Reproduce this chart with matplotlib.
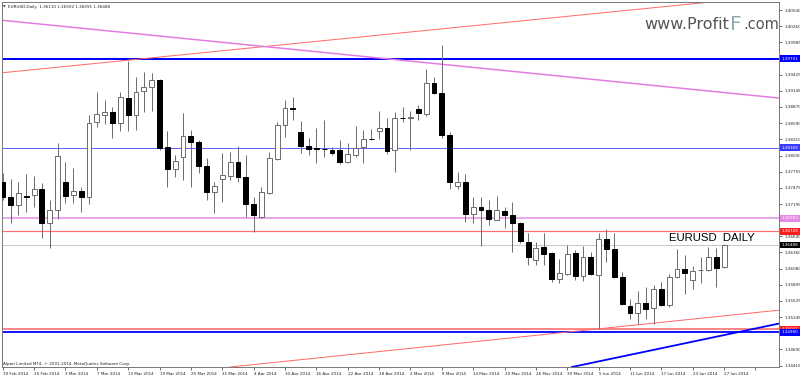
import matplotlib
matplotlib.use("Agg")
import matplotlib.pyplot as plt

# ---------------- data (EURUSD daily, 19 Feb 2014 .. 27 Jun 2014) ----------------
opens = [1.37574, 1.37316, 1.37178, 1.37333, 1.37350, 1.37454, 1.36867, 1.37092, 1.37574, 1.37350,
         1.37419, 1.37316, 1.38609, 1.38729, 1.38781, 1.38591, 1.39022, 1.38729, 1.39143, 1.39212,
         1.39333, 1.38178, 1.37798, 1.38005, 1.38367, 1.38264, 1.37850, 1.37402, 1.37626, 1.37678,
         1.37919, 1.37661, 1.37195, 1.36971, 1.37385, 1.37971, 1.38557, 1.38850, 1.38436, 1.38195,
         1.38160, 1.38152, 1.38126, 1.38126, 1.37919, 1.38040, 1.38178, 1.38316, 1.38454, 1.38505,
         1.38126, 1.38678, 1.38686, 1.38833, 1.38747, 1.39281, 1.39109, 1.38385, 1.37505, 1.37574,
         1.37023, 1.37143, 1.37092, 1.36919, 1.37074, 1.37005, 1.36867, 1.36540, 1.36230, 1.36454,
         1.36350, 1.35902, 1.35988, 1.36350, 1.35954, 1.36281, 1.35971, 1.36592, 1.36419, 1.35937,
         1.35437, 1.35316, 1.35488, 1.35402, 1.35730, 1.35454, 1.35937, 1.36074, 1.35885, 1.36050,
         1.36057, 1.36281, 1.36110]
highs = [1.37729, 1.37626, 1.37574, 1.37712, 1.37678, 1.37557, 1.37264, 1.38247, 1.37919, 1.37816,
         1.37488, 1.38729, 1.39126, 1.38988, 1.38867, 1.39126, 1.39660, 1.39385, 1.39471, 1.39453,
         1.39350, 1.38454, 1.38040, 1.38764, 1.38471, 1.38298, 1.37988, 1.37574, 1.38074, 1.38092,
         1.38195, 1.38040, 1.37316, 1.37488, 1.38092, 1.38609, 1.38988, 1.39040, 1.38626, 1.38333,
         1.38505, 1.38643, 1.38178, 1.38298, 1.38247, 1.38540, 1.38471, 1.38488, 1.38798, 1.38678,
         1.38781, 1.38867, 1.38798, 1.38902, 1.39522, 1.39385, 1.39936, 1.38436, 1.37747, 1.37712,
         1.37316, 1.37316, 1.37264, 1.37333, 1.37143, 1.37230, 1.36885, 1.36695, 1.36540, 1.36695,
         1.36368, 1.36247, 1.36488, 1.36402, 1.36471, 1.36368, 1.36695, 1.36764, 1.36695, 1.36023,
         1.35557, 1.35695, 1.35764, 1.35799, 1.35850, 1.35988, 1.36419, 1.36316, 1.36126, 1.36281,
         1.36454, 1.36436, 1.36502]
lows = [1.37264, 1.36867, 1.37005, 1.37057, 1.37143, 1.36609, 1.36436, 1.36936, 1.37212, 1.37212,
        1.37057, 1.37195, 1.38523, 1.38574, 1.38333, 1.38454, 1.38454, 1.38471, 1.38781, 1.38798,
        1.38126, 1.37488, 1.37661, 1.37609, 1.37488, 1.37729, 1.37264, 1.37040, 1.37230, 1.37609,
        1.37574, 1.36971, 1.36712, 1.36962, 1.37376, 1.37954, 1.38350, 1.38643, 1.38074, 1.38040,
        1.37902, 1.38005, 1.38040, 1.37885, 1.37902, 1.38005, 1.37902, 1.38298, 1.38316, 1.38057,
        1.37747, 1.38609, 1.38126, 1.38643, 1.38712, 1.39091, 1.38333, 1.37454, 1.37454, 1.36885,
        1.36867, 1.36471, 1.36833, 1.36911, 1.36781, 1.36368, 1.36523, 1.36143, 1.36143, 1.36143,
        1.35850, 1.35833, 1.35971, 1.35885, 1.35868, 1.35971, 1.35040, 1.36195, 1.35919, 1.35454,
        1.35212, 1.35126, 1.35212, 1.35126, 1.35437, 1.35419, 1.35919, 1.35643, 1.35730, 1.35833,
        1.36040, 1.35764, 1.36091]
closes = [1.37316, 1.37178, 1.37385, 1.37324, 1.37454, 1.36867, 1.37092, 1.38023, 1.37333, 1.37419,
          1.37316, 1.38591, 1.38747, 1.38781, 1.38591, 1.39040, 1.38729, 1.39126, 1.39212, 1.39333,
          1.38160, 1.37798, 1.37936, 1.38367, 1.38264, 1.37850, 1.37402, 1.37505, 1.37695, 1.37919,
          1.37661, 1.37195, 1.37005, 1.37402, 1.37988, 1.38557, 1.38850, 1.38841, 1.38195, 1.38143,
          1.38143, 1.38138, 1.38074, 1.37919, 1.38057, 1.38160, 1.38316, 1.38311, 1.38505, 1.38109,
          1.38678, 1.38673, 1.38690, 1.38764, 1.39281, 1.39109, 1.38385, 1.37574, 1.37574, 1.37031,
          1.37143, 1.37092, 1.36936, 1.37092, 1.37005, 1.36867, 1.36557, 1.36281, 1.36436, 1.36333,
          1.35902, 1.36005, 1.36333, 1.35954, 1.36281, 1.35988, 1.36592, 1.36419, 1.35937, 1.35471,
          1.35316, 1.35488, 1.35385, 1.35730, 1.35454, 1.35937, 1.36074, 1.36005, 1.36040, 1.36057,
          1.36281, 1.36092, 1.36488]

tick_labels = ["19 Feb 2014", "25 Feb 2014", "3 Mar 2014", "7 Mar 2014", "13 Mar 2014", "19 Mar 2014",
               "25 Mar 2014", "31 Mar 2014", "4 Apr 2014", "10 Apr 2014", "16 Apr 2014", "22 Apr 2014",
               "28 Apr 2014", "2 May 2014", "8 May 2014", "14 May 2014", "20 May 2014", "26 May 2014",
               "30 May 2014", "5 Jun 2014", "11 Jun 2014", "17 Jun 2014", "23 Jun 2014", "27 Jun 2014"]

price_ticks = [1.40540, 1.40260, 1.39985, 1.39705, 1.39425, 1.39145, 1.38870, 1.38590, 1.38310,
               1.38030, 1.37755, 1.37475, 1.37195, 1.36915, 1.36640, 1.36360, 1.36080, 1.35805,
               1.35525, 1.35245, 1.34965, 1.34690, 1.34410]
hidden_ticks = [1.39705, 1.36915, 1.34965]

# horizontal levels: value, line colour, line width (px), label background
level_values = [1.39701, 1.38169, 1.36953, 1.36728, 1.36488, 1.35037, 1.34980]
level_colors = ["#0000ff", "#6464ff", "#e58ae5", "#ff6e6e", "#c8c8c8", "#ff7a7a", "#0000ff"]
level_widths = [2.0, 1.0, 1.5, 1.2, 1.0, 1.8, 1.8]
level_label_bg = ["#0000ff", "#3a3aff", "#e58ae5", "#ff1e1e", "#000000", "#ff1e1e", "#0000ff"]

# trend lines: two anchor points (bar index, price)
trend_points = [((0.0, 1.39459), (90.0, 1.40674)),
                ((0.0, 1.40362), (99.0, 1.39022)),
                ((29.0, 1.34385), (76.0, 1.35043)),
                ((72.6, 1.34385), (99.0, 1.35134))]
trend_colors = ["#ff6a6a", "#e07ce0", "#ff6a6a", "#0000ff"]
trend_widths = [1.0, 1.5, 1.0, 1.8]

# ---------------- figure ----------------
W, H = 800, 375
fig = plt.figure(figsize=(W / 100, H / 100), dpi=100)
fig.patch.set_facecolor("white")
ax = fig.add_axes([2 / W, (H - 367) / H, 777 / W, 365 / H])
ax.set_facecolor("white")

px = 0.72  # one pixel in points
n = len(opens)
xs = list(range(n))

ax.set_xlim(-0.09, 99.0)
ax.set_ylim(1.34385, 1.40678)

# levels
for v, c, lw in zip(level_values, level_colors, level_widths):
    ax.axhline(v, color=c, lw=lw * px, zorder=1)

# trend lines
for (p1, p2), c, lw in zip(trend_points, trend_colors, trend_widths):
    ax.axline(p1, p2, color=c, lw=lw * px, zorder=1.2)

# candles
wick_color = "#6f6f6f"
ax.vlines(xs, lows, highs, color=wick_color, lw=1.0 * px, zorder=2)
bottoms = [min(o, c) for o, c in zip(opens, closes)]
heights = [max(abs(c - o), 0.00002) for o, c in zip(opens, closes)]
fills = ["white" if c >= o else "black" for o, c in zip(opens, closes)]
edges = [wick_color if c >= o else "black" for o, c in zip(opens, closes)]
ax.bar(xs, heights, bottom=bottoms, width=0.62, color=fills, edgecolor=edges,
       linewidth=1.0 * px, zorder=3)

# axes styling
for s in ax.spines.values():
    s.set_color("#7a7a7a")
    s.set_linewidth(1.0 * px)

ax.yaxis.tick_right()
ax.set_yticks(price_ticks)
ax.set_yticklabels(["" if t in hidden_ticks else f"{t:.5f}" for t in price_ticks])
ax.tick_params(axis="y", direction="out", length=2.5, width=0.6, color="#555555",
               labelsize=3.0, pad=1.2, labelcolor="#222222")

xt = [4 * k for k in range(len(tick_labels))] + [4 * len(tick_labels)]
ax.set_xticks(xt)
ax.set_xticklabels(tick_labels + [""])
for lab in ax.get_xticklabels():
    lab.set_horizontalalignment("left")
ax.tick_params(axis="x", direction="out", length=2.5, width=0.6, color="#555555",
               labelsize=3.0, pad=1.2, labelcolor="#222222")

# right-side coloured labels for the levels
ytr = ax.get_yaxis_transform()
for v, bg in zip(level_values, level_label_bg):
    ax.text(1.0035, v, f"{v:.5f}", transform=ytr, fontsize=3.0, color="white",
            ha="left", va="center", clip_on=False, zorder=6,
            bbox=dict(boxstyle="square,pad=0.35", fc=bg, ec="none"))

# texts
ax.text(667 / 777, 1.36520, "EURUSD  DAILY", fontsize=8.2,
        family="Liberation Sans", color="black", ha="left", va="bottom",
        transform=ytr, zorder=5)

fig.text(3 / W, 1 - 7 / H, "\u25BC", fontsize=2.5, color="#333333", va="center", ha="left")
fig.text(8 / W, 1 - 7 / H, "EURUSD,Daily  1.36110 1.36502 1.36091 1.36488", fontsize=3.0,
         color="#222222", va="center", ha="left")
fig.text(3 / W, 1 - 364 / H, "Alpari Limited MT4, \u00A9 2001-2014, MetaQuotes Software Corp.",
         fontsize=3.0, color="#222222", va="center", ha="left")

# watermark
fig.text(729 / W, 1 - 29 / H, "www.Profit", fontsize=11.5, color="#555555",
         ha="right", va="baseline")
fig.text(729.5 / W, 1 - 30.5 / H, "F", fontsize=14.5, color="#8fabb3", ha="left", va="baseline")
fig.text(743 / W, 1 - 29 / H, ".com", fontsize=10.5, color="#555555", ha="left", va="baseline")

fig.savefig("out.png", dpi=100, facecolor="white")
